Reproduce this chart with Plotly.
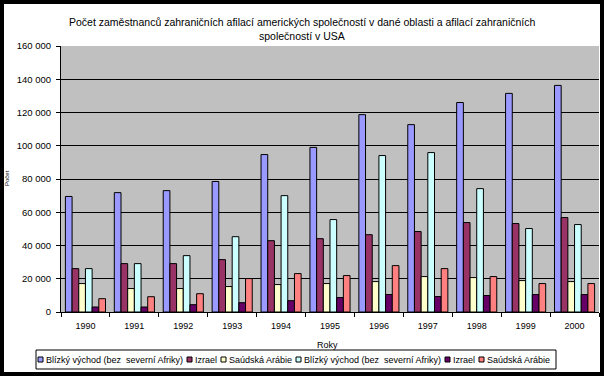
import plotly.graph_objects as go

# ---------------- data ----------------
years = ["1990", "1991", "1992", "1993", "1994", "1995", "1996", "1997", "1998", "1999", "2000"]

series_names = [
    "Blízký východ (bez\u00a0 severní Afriky)",
    "Izrael",
    "Saúdská Arábie",
    "Blízký východ (bez\u00a0 severní Afriky)",
    "Izrael",
    "Saúdská Arábie",
]

bv_us_aff = [69500, 71800, 73000, 78500, 94700, 99000, 118700, 112700, 126000, 131500, 136300]
iz_us_aff = [26100, 29100, 29100, 31500, 42900, 44100, 46500, 48400, 53800, 53200, 56800]
sa_us_aff = [17100, 14100, 14100, 15300, 16500, 17100, 18300, 21300, 20700, 18900, 18300]
bv_in_usa = [26100, 29100, 33900, 45300, 70000, 55600, 94100, 95900, 74200, 50200, 52600]
iz_in_usa = [3000, 3000, 4400, 5600, 6800, 8700, 10500, 9300, 9900, 10500, 10500]
sa_in_usa = [8000, 9200, 11000, 20100, 23100, 21900, 27900, 26100, 21300, 17100, 17100]

series_values = [bv_us_aff, iz_us_aff, sa_us_aff, bv_in_usa, iz_in_usa, sa_in_usa]
series_colors = ["#9999FF", "#993366", "#FFFFCC", "#CCFFFF", "#660066", "#FF8080"]

y_tickvals = [0, 20000, 40000, 60000, 80000, 100000, 120000, 140000, 160000]
y_ticktext = ["0", "20 000", "40 000", "60 000", "80 000", "100 000", "120 000", "140 000", "160 000"]

title_line1 = "Počet zaměstnanců zahraničních afilací amerických společností v dané oblasti a afilací zahraničních"
title_line2 = "společností v USA"
x_title = "Roky"
y_title = "Počet"

# ---------------- layout helpers ----------------
W, H = 604, 376
ML, MR, MT, MB = 61, 5, 46, 64
PW = W - ML - MR
PH = H - MT - MB
FONT = "Liberation Sans, Arial, sans-serif"


def px2x(px):
    return (px - ML) / PW


def px2y(py):
    return (H - MB - py) / PH


fig = go.Figure()
for name, vals, col in zip(series_names, series_values, series_colors):
    fig.add_trace(go.Bar(
        x=years, y=vals, name=name,
        marker=dict(color=col, line=dict(color="black", width=1)),
        showlegend=False,
    ))

shapes = []
annotations = []

# title (two centred lines)
for txt, cyy in ((title_line1, 21.5), (title_line2, 35.5)):
    annotations.append(dict(text=txt, xref="paper", yref="paper",
                            x=px2x(302), y=px2y(cyy), xanchor="center", yanchor="middle",
                            showarrow=False, font=dict(family=FONT, size=10.5, color="black")))

# legend box
shapes.append(dict(type="rect", xref="paper", yref="paper",
                   x0=px2x(36), x1=px2x(556), y0=px2y(369), y1=px2y(350),
                   line=dict(color="black", width=1), fillcolor="white", layer="above"))
sq_x = [38, 187, 221, 296, 445, 479]
cy = 359.5
for sx, name, col in zip(sq_x, series_names, series_colors):
    shapes.append(dict(type="rect", xref="paper", yref="paper",
                       x0=px2x(sx), x1=px2x(sx + 5), y0=px2y(cy + 2.5), y1=px2y(cy - 2.5),
                       line=dict(color="black", width=1), fillcolor=col, layer="above"))
    annotations.append(dict(text=name, xref="paper", yref="paper",
                            x=px2x(sx + 6), y=px2y(cy), xanchor="left", yanchor="middle",
                            showarrow=False, font=dict(family=FONT, size=9, color="black")))

# black outer frame
shapes.append(dict(type="rect", xref="paper", yref="paper",
                   x0=px2x(0), x1=px2x(W), y0=px2y(H), y1=px2y(0),
                   line=dict(color="black", width=8), fillcolor="rgba(0,0,0,0)", layer="above"))

# axis titles
annotations.append(dict(text=x_title, xref="paper", yref="paper",
                        x=px2x(327), y=px2y(345), xanchor="center", yanchor="middle",
                        showarrow=False, font=dict(family=FONT, size=9, color="black")))
annotations.append(dict(text=y_title, xref="paper", yref="paper",
                        x=px2x(7), y=px2y(178), xanchor="center", yanchor="middle", textangle=-90,
                        showarrow=False, font=dict(family=FONT, size=6, color="black")))

fig.update_layout(
    width=W, height=H,
    margin=dict(l=ML, r=MR, t=MT, b=MB, pad=0),
    paper_bgcolor="white",
    plot_bgcolor="#C0C0C0",
    barmode="group",
    bargap=0.18,
    bargroupgap=0,
    font=dict(family=FONT, size=9, color="black"),
    shapes=shapes,
    annotations=annotations,
    showlegend=False,
    xaxis=dict(type="category", categoryorder="array", categoryarray=years,
               tickson="boundaries", ticks="outside", ticklen=4, tickcolor="black", tickwidth=1,
               showline=True, linecolor="black", linewidth=1, showgrid=False,
               ticklabelstandoff=5,
               tickfont=dict(family=FONT, size=9, color="black"), fixedrange=True,
               automargin=False),
    yaxis=dict(range=[0, 160000], tickvals=y_tickvals, ticktext=y_ticktext,
               ticks="outside", ticklen=4, tickcolor="black", tickwidth=1,
               showline=True, linecolor="black", linewidth=1,
               showgrid=True, gridcolor="black", gridwidth=1, zeroline=False,
               ticklabelstandoff=3,
               tickfont=dict(family=FONT, size=9.5, color="black"), fixedrange=True,
               automargin=False),
)

fig.write_html("out.html", config={"displayModeBar": False},
               post_script="document.body.style.margin='0';document.body.style.overflow='hidden';")
